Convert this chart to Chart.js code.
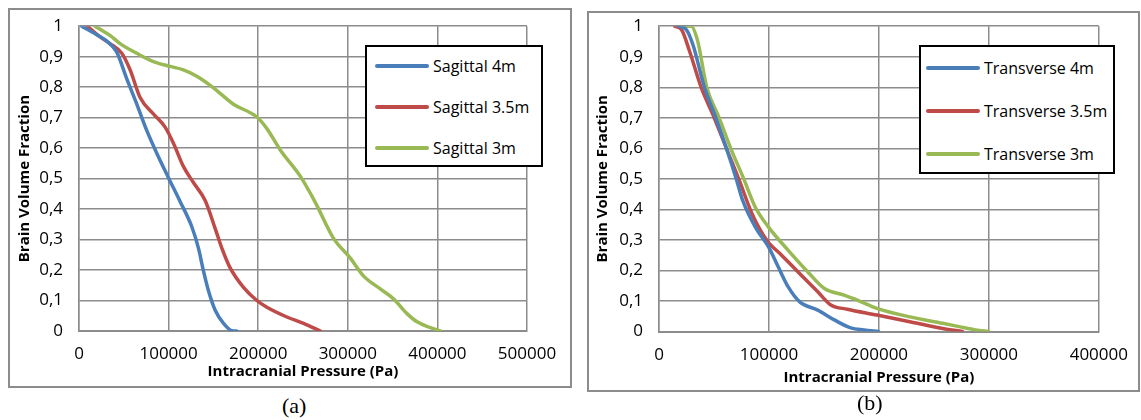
<!DOCTYPE html>
<html>
<head>
<meta charset="utf-8">
<script src="https://cdn.jsdelivr.net/npm/chart.js@4.4.1/dist/chart.umd.min.js"></script>
<style>
  body { margin: 0; background: #fff; width: 1141px; height: 420px; position: relative; overflow: hidden; }
  .frame { position: absolute; border: 2px solid #8c8c8c; box-sizing: border-box; }
  .wrap { position: absolute; }
  .legend { position: absolute; border: 2px solid #000; background: #fff; box-sizing: border-box;
            font-family: 'Open Sans', sans-serif; font-size: 16px; color: #000; }
  .legend .item { position: absolute; height: 22px; line-height: 22px; white-space: nowrap; }
  .legend .swatch { position: absolute; top: 9px; height: 4px; border-radius: 2px; }
  .caption { position: absolute; font-family: 'Liberation Serif', serif; font-size: 22px; }
</style>
</head>
<body>
<div class="frame" style="left:8px;top:8px;width:564px;height:380px"></div>
<div class="frame" style="left:587px;top:11px;width:553px;height:381px"></div>
<div class="wrap" style="left:0;top:0;width:577px;height:390px"><canvas id="chartA"></canvas></div>
<div class="wrap" style="left:580px;top:0;width:561px;height:395px"><canvas id="chartB"></canvas></div>
<div class="legend" id="legendA" style="left:365px;top:45px;width:178px;height:122px"></div>
<div class="legend" id="legendB" style="left:919px;top:45px;width:196px;height:129px"></div>
<div class="caption" style="left:282px;top:393px">(a)</div>
<div class="caption" style="left:857px;top:390px">(b)</div>
<script>
// y tick labels use a decimal comma, as in the original
const yTickLabels = ['0', '0,1', '0,2', '0,3', '0,4', '0,5', '0,6', '0,7', '0,8', '0,9', '1'];
const xTickLabelsA = ['0', '100000', '200000', '300000', '400000', '500000'];
const xTickLabelsB = ['0', '100000', '200000', '300000', '400000'];

// (a) sagittal
const sag4X = [3000, 19800, 31000, 42000, 53000, 64500, 75600, 86800, 99800, 112800, 125900, 133300, 138900, 144500, 152000, 161300, 170600, 176000];
const sag4Y = [1, 0.972, 0.951, 0.916, 0.83, 0.744, 0.658, 0.583, 0.503, 0.425, 0.342, 0.272, 0.197, 0.132, 0.068, 0.025, 0.001, 0];
const sag35X = [9300, 23500, 34600, 47700, 57000, 68200, 83000, 96100, 105400, 116500, 127700, 140800, 152000, 159400, 168700, 183600, 198500, 209700, 232000, 250600, 269300];
const sag35Y = [1, 0.965, 0.943, 0.911, 0.857, 0.766, 0.712, 0.669, 0.616, 0.54, 0.487, 0.428, 0.336, 0.272, 0.207, 0.143, 0.10, 0.078, 0.046, 0.025, 0];
const sag3X = [17900, 23500, 34600, 45800, 64500, 83000, 101700, 116500, 131500, 150100, 172400, 198500, 209700, 224600, 246900, 263700, 284100, 302800, 317700, 336300, 351200, 366100, 377300, 392200, 403400];
const sag3Y = [1, 0.99, 0.97, 0.943, 0.911, 0.884, 0.868, 0.857, 0.836, 0.798, 0.744, 0.702, 0.664, 0.594, 0.508, 0.422, 0.304, 0.239, 0.180, 0.138, 0.105, 0.057, 0.030, 0.011, 0];

// (b) transverse
const tra4X = [17300, 24800, 30800, 41300, 51700, 61300, 70200, 76000, 87600, 99600, 108500, 117500, 128000, 144400, 159400, 174300, 186300, 199700];
const tra4Y = [1, 0.989, 0.94, 0.80, 0.70, 0.60, 0.50, 0.43, 0.342, 0.277, 0.211, 0.146, 0.097, 0.070, 0.038, 0.012, 0.005, 0];
const tra35X = [14300, 20400, 27800, 38300, 50200, 61300, 72500, 84600, 98000, 111500, 129400, 144400, 156300, 171300, 198200, 228100, 258000, 276000];
const tra35Y = [1, 0.989, 0.918, 0.80, 0.70, 0.60, 0.50, 0.386, 0.299, 0.25, 0.184, 0.13, 0.087, 0.073, 0.054, 0.032, 0.010, 0];
const tra3X = [20400, 29300, 35200, 43400, 54700, 65200, 77100, 87600, 99600, 117500, 135400, 150400, 168300, 180300, 198200, 228100, 258000, 272900, 287900, 299800];
const tra3Y = [1, 1, 0.951, 0.80, 0.70, 0.60, 0.50, 0.407, 0.342, 0.266, 0.195, 0.141, 0.119, 0.103, 0.076, 0.048, 0.027, 0.016, 0.005, 0];

const BLUE = '#4a7ebb', RED = '#be4b48', GREEN = '#98b954';

Chart.defaults.font.family = "'Open Sans', sans-serif";
Chart.defaults.color = '#000';

function pts(xs, ys) {
  return xs.map((x, i) => ({ x: x, y: ys[i] }));
}

function series(label, color, xs, ys) {
  return {
    label: label,
    data: pts(xs, ys),
    borderColor: color,
    backgroundColor: color,
    borderWidth: 3.5,
    pointRadius: 0,
    cubicInterpolationMode: 'monotone',
    borderCapStyle: 'round',
    fill: false
  };
}

function makeChart(id, datasets, xMax, xLabels, g) {
  return new Chart(document.getElementById(id), {
    type: 'line',
    data: { datasets: datasets },
    options: {
      responsive: true,
      maintainAspectRatio: false,
      animation: false,
      layout: { padding: { left: 0, top: g.top, right: g.right, bottom: 0 } },
      plugins: { legend: { display: false }, tooltip: { enabled: false } },
      scales: {
        x: {
          type: 'linear', min: 0, max: xMax,
          grid: { color: '#8c8c8c', lineWidth: 1.5, drawTicks: false },
          border: { color: '#8c8c8c', width: 2 },
          ticks: { stepSize: 100000, padding: 13, maxRotation: 0, font: { size: 17 },
                   callback: (v, i) => xLabels[i] },
          title: { display: true, text: 'Intracranial Pressure (Pa)', font: { size: 15, weight: 'bold' },
                   padding: { top: 0, bottom: g.xTitlePad } },
          afterFit: s => { s.height = g.xHeight; }
        },
        y: {
          min: 0, max: 1,
          grid: { color: '#8c8c8c', lineWidth: 1.5, drawTicks: false },
          border: { color: '#8c8c8c', width: 1.5 },
          ticks: { stepSize: 0.1, padding: 16, font: { size: 17 },
                   callback: (v, i) => yTickLabels[i] },
          title: { display: true, text: 'Brain Volume Fraction', font: { size: 15, weight: 'bold' },
                   padding: { top: g.yTitlePad, bottom: 0 } },
          afterFit: s => { s.width = 79; }
        }
      }
    }
  });
}

function buildLegend(id, datasets, g) {
  const box = document.getElementById(id);
  datasets.forEach((d, i) => {
    const item = document.createElement('div');
    item.className = 'item';
    item.style.left = '0px';
    item.style.top = (g.first + i * g.step - 11) + 'px';
    const sw = document.createElement('div');
    sw.className = 'swatch';
    sw.style.left = g.swLeft + 'px';
    sw.style.width = g.swWidth + 'px';
    sw.style.background = d.borderColor;
    const tx = document.createElement('span');
    tx.style.position = 'absolute';
    tx.style.left = g.textLeft + 'px';
    tx.textContent = d.label;
    item.appendChild(sw);
    item.appendChild(tx);
    box.appendChild(item);
  });
}

const dsA = [
  series('Sagittal 4m', BLUE, sag4X, sag4Y),
  series('Sagittal 3.5m', RED, sag35X, sag35Y),
  series('Sagittal 3m', GREEN, sag3X, sag3Y)
];
const dsB = [
  series('Transverse 4m', BLUE, tra4X, tra4Y),
  series('Transverse 3.5m', RED, tra35X, tra35Y),
  series('Transverse 3m', GREEN, tra3X, tra3Y)
];

makeChart('chartA', dsA, 500000, xTickLabelsA, { top: 21, right: 50, xHeight: 59, xTitlePad: 9, yTitlePad: 16 });
makeChart('chartB', dsB, 400000, xTickLabelsB, { top: 24, right: 37, xHeight: 63.5, xTitlePad: 8, yTitlePad: 14 });

buildLegend('legendA', dsA, { first: 19, step: 41, swLeft: 8, swWidth: 54, textLeft: 66 });
buildLegend('legendB', dsB, { first: 21, step: 43, swLeft: 5, swWidth: 54, textLeft: 63 });
</script>
</body>
</html>
